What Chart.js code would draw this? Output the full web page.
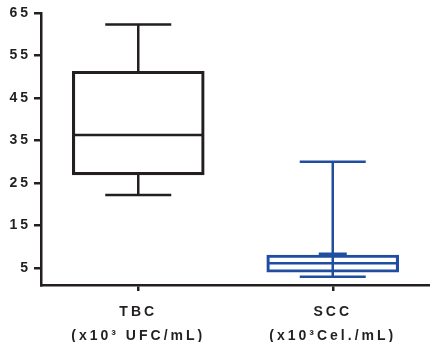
<!DOCTYPE html>
<html>
<head>
<meta charset="utf-8">
<script src="https://cdn.jsdelivr.net/npm/chart.js@4/dist/chart.umd.min.js"></script>
<style>
  html, body { margin: 0; padding: 0; background: #fff; }
  #wrap { width: 430px; height: 342px; }
</style>
</head>
<body>
<div id="wrap"><canvas id="c" width="430" height="342"></canvas></div>
<script>
// ---- data ----
const categories = [['TBC', '(x10³ UFC/mL)'], ['SCC', '(x10³Cel./mL)']];
const whiskerMin = [22.2, 2.95];
const quartile1  = [26.9, 4.0];
const medians    = [36.3, 6.1];
const quartile3  = [51.3, 8.05];
const whiskerMax = [62.3, 30.0];
const extraCap   = [null, 8.35];
const yTicks     = [5, 15, 25, 35, 45, 55, 65];

// ---- styling ----
const seriesColors = ['#231f20', '#1f4ea1'];
const lineW = 2.5;

const boxPlugin = {
  id: 'boxParts',
  beforeDraw(chart) {
    chart.ctx.letterSpacing = '3px';
  },
  afterDatasetsDraw(chart) {
    const ctx = chart.ctx;
    const ys = chart.scales.y;
    const meta = chart.getDatasetMeta(0);
    ctx.save();
    ctx.lineWidth = lineW;
    ctx.lineCap = 'butt';
    categories.forEach((c, i) => {
      const bar = meta.data[i];
      const x = bar.x;
      const half = bar.width / 2;
      ctx.strokeStyle = seriesColors[i];
      const yMin = ys.getPixelForValue(whiskerMin[i]);
      const yQ1 = ys.getPixelForValue(quartile1[i]);
      const yMed = ys.getPixelForValue(medians[i]);
      const yQ3 = ys.getPixelForValue(quartile3[i]);
      const yMax = ys.getPixelForValue(whiskerMax[i]);
      const capHalf = 33;
      ctx.beginPath();
      // median
      ctx.moveTo(x - half + 1, yMed); ctx.lineTo(x + half - 1, yMed);
      // whiskers
      if (i === 1) {
        ctx.moveTo(x, yMax); ctx.lineTo(x, yMin);
      } else {
        ctx.moveTo(x, yQ3); ctx.lineTo(x, yMax);
        ctx.moveTo(x, yQ1); ctx.lineTo(x, yMin);
      }
      // caps
      ctx.moveTo(x - capHalf, yMax); ctx.lineTo(x + capHalf, yMax);
      ctx.moveTo(x - capHalf, yMin); ctx.lineTo(x + capHalf, yMin);
      if (extraCap[i] != null) {
        const ye = ys.getPixelForValue(extraCap[i]);
        ctx.moveTo(x - 14, ye); ctx.lineTo(x + 14, ye);
      }
      ctx.stroke();
    });
    ctx.restore();
  }
};

const tickFont = { family: '"Liberation Sans", Arial, sans-serif', size: 14, weight: 'bold', lineHeight: 1.65 };

new Chart(document.getElementById('c'), {
  type: 'bar',
  data: {
    labels: categories,
    datasets: [{
      data: quartile1.map((q, i) => [q, quartile3[i]]),
      backgroundColor: 'rgba(0,0,0,0)',
      borderColor: seriesColors,
      borderWidth: lineW,
      borderSkipped: false,
      barThickness: 132
    }]
  },
  options: {
    responsive: false,
    animation: false,
    events: [],
    plugins: { legend: { display: false }, tooltip: { enabled: false } },
    layout: { padding: { top: 13, left: 0, right: 0, bottom: 0 } },
    scales: {
      x: {
        offset: true,
        grid: { display: true, offset: false, drawOnChartArea: false, drawTicks: true, tickLength: 6, lineWidth: 2.5, color: '#231f20' },
        border: { display: true, color: '#231f20', width: 2.5 },
        ticks: { font: tickFont, color: '#231f20', padding: 10, maxRotation: 0, autoSkip: false },
        afterFit(s) { s.height = 57; }
      },
      y: {
        min: 1,
        max: 65,
        afterBuildTicks(s) { s.ticks = yTicks.map(v => ({ value: v })); },
        grid: { display: true, drawOnChartArea: false, drawTicks: true, tickLength: 7, lineWidth: 2.5, color: '#231f20' },
        border: { display: true, color: '#231f20', width: 2.5 },
        ticks: { font: { family: '"Liberation Sans", Arial, sans-serif', size: 14, weight: 'bold' }, color: '#231f20', padding: 3 },
        afterFit(s) { s.width = 41; }
      }
    }
  },
  plugins: [boxPlugin]
});
</script>
</body>
</html>
